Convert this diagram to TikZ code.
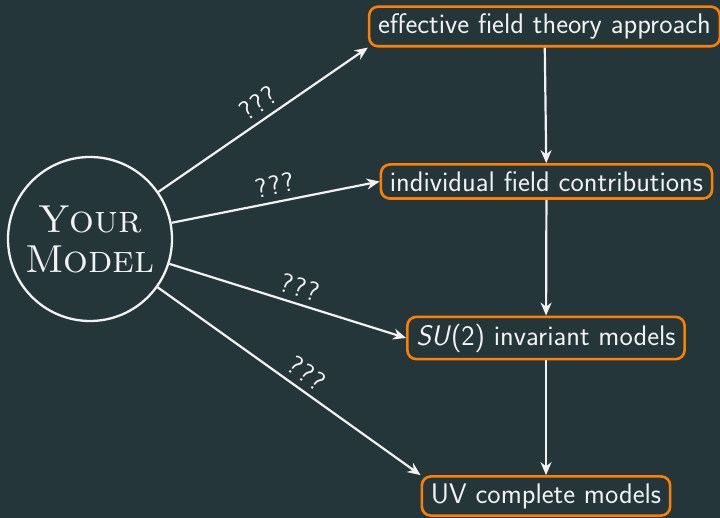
\documentclass[tikz,border=0pt]{standalone}
\usetikzlibrary{arrows.meta}
\definecolor{bg}{RGB}{37,54,58}
\definecolor{orng}{RGB}{255,128,0}
\definecolor{fg}{RGB}{242,242,242}
\newcommand{\qqq}{?\kern1.5pt?\kern1.5pt?}
\begin{document}
\begin{tikzpicture}[x=1pt,y=1pt,
 box/.style={draw=orng, line width=2.6pt, rounded corners=9pt, text=fg,
   font=\fontsize{28.3}{32}\selectfont\sffamily, inner xsep=9pt, inner ysep=7pt},
 arr/.style={draw=fg, line width=2.2pt, -{Stealth[length=13pt,width=11pt]}},
 qlab/.style={pos=0.5, sloped, above=3pt, text=fg, font=\fontsize{27}{30}\selectfont\sffamily},
]
\fill[bg] (0,0) rectangle (720,518);
\useasboundingbox (0,0) rectangle (720,518);
\node[circle, draw=fg, line width=2.3pt, minimum size=164pt, inner sep=0pt, text=fg,
  align=center, font=\fontsize{39}{40}\selectfont\rmfamily] (m) at (90,279)
  {\textsc{Your}\\\textsc{Model}};
\node[box] (b1) at (544.5,491.5) {effective field theory approach};
\node[box] (b2) at (546.5,336.5) {individual field contributions};
\node[box] (b3) at (546,180) {\textit{SU}(2) invariant models};
\node[box] (b4) at (546,22) {UV complete models};
\draw[arr] (b1) -- (b2);
\draw[arr] (b2) -- (b3);
\draw[arr] (b3) -- (b4);
\draw[arr] (m) -- (b1.south west) node[qlab, pos=0.52] {\qqq};
\draw[arr] (m) -- (b2.west) node[qlab, pos=0.51] {\qqq};
\draw[arr] (m) -- (b3.west) node[qlab, pos=0.53] {\qqq};
\draw[arr] (m) -- (b4.north west) node[qlab, pos=0.53] {\qqq};
\end{tikzpicture}
\end{document}
